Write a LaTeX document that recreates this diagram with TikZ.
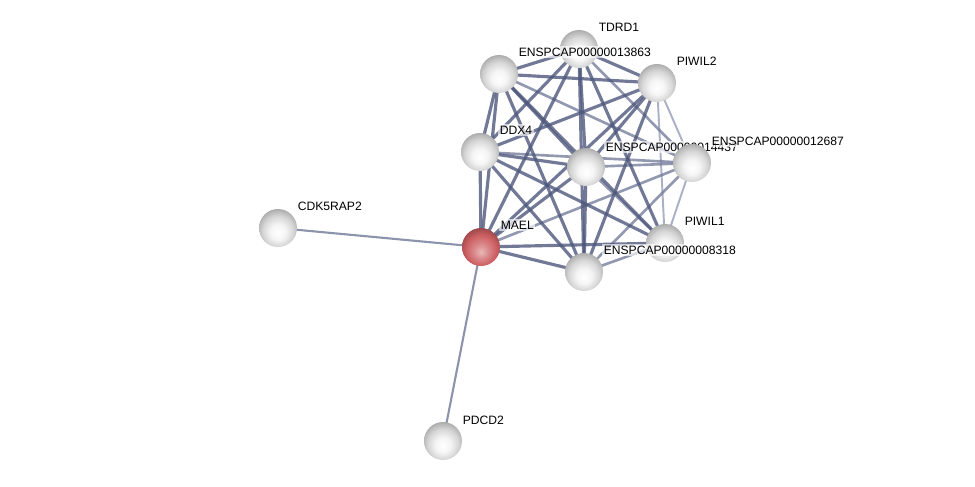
\documentclass[tikz,border=0pt]{standalone}
\usepackage{fontspec}
\setmainfont{Liberation Sans}
\usepackage{xcolor}
\definecolor{edgedark}{RGB}{78,88,124}
\definecolor{edgemid}{RGB}{118,126,156}
\definecolor{edgelight}{RGB}{170,176,198}
\definecolor{edgeout}{RGB}{140,148,172}
\definecolor{maelred}{RGB}{205,95,98}
\pgfdeclareradialshading{protball}{\pgfpoint{0bp}{-7bp}}{color(0bp)=(white); color(10bp)=(white!96!black); color(20bp)=(white!84!black); color(27bp)=(white!70!black); color(33bp)=(white!55!black); color(50bp)=(white!55!black)}
\pgfdeclareradialshading{queryball}{\pgfpoint{0bp}{-7bp}}{color(0bp)=(maelred!45!white); color(10bp)=(maelred!75!white); color(20bp)=(maelred); color(27bp)=(maelred!80!black); color(33bp)=(maelred!55!black); color(50bp)=(maelred!55!black)}

\begin{document}
\begin{tikzpicture}[x=0.02cm, y=-0.02cm,
    prot/.style={circle, minimum size=0.76cm, inner sep=0pt, shading=protball},
    query/.style={prot, shading=queryball},
    lbl/.style={anchor=west, font=\fontsize{6.9}{7}\selectfont, fill=white, fill opacity=0.65, text opacity=1, inner sep=0.8pt},
    strong/.style={draw=edgedark, line width=1.8pt, opacity=0.8},
    medium/.style={draw=edgemid, line width=1.5pt, opacity=0.8},
    weak/.style={draw=edgelight, line width=1.1pt},
    outer/.style={draw=edgeout, line width=1.2pt}]
    \useasboundingbox (0,0) rectangle (975,487);

    % node positions
    \coordinate (mael) at (481,247);
    \coordinate (ddx4) at (480,152);
    \coordinate (e13863) at (499,74);
    \coordinate (tdrd1) at (579,49);
    \coordinate (piwil2) at (657,83);
    \coordinate (e14437) at (586,167);
    \coordinate (e12687) at (692,163);
    \coordinate (piwil1) at (665,243);
    \coordinate (e8318) at (584,272);
    \coordinate (cdk) at (278,228);
    \coordinate (pdcd2) at (443,441);

    % edges
    \draw[outer] (cdk) -- (mael);
    \draw[outer] (pdcd2) -- (mael);
    \foreach \a/\b in {piwil2/piwil1, e12687/piwil1, piwil2/e12687}
        \draw[weak] (\a) -- (\b);
    \foreach \a/\b in {mael/e12687, ddx4/e12687, e13863/e12687, tdrd1/e12687,
                       e14437/e12687, e8318/e12687, e14437/piwil1, e8318/piwil1}
        \draw[medium] (\a) -- (\b);
    \foreach \a/\b in {mael/ddx4, mael/e13863, mael/tdrd1, mael/piwil2, mael/e14437,
                       mael/e8318, mael/piwil1, ddx4/e13863, ddx4/tdrd1, ddx4/piwil2,
                       ddx4/e14437, ddx4/e8318, ddx4/piwil1, e13863/tdrd1, e13863/piwil2,
                       e13863/e14437, e13863/e8318, e13863/piwil1, tdrd1/piwil2,
                       tdrd1/e14437, tdrd1/e8318, tdrd1/piwil1, piwil2/e14437,
                       piwil2/e8318, e14437/e8318}
        \draw[strong] (\a) -- (\b);

    % proteins
    \node[prot] (n-cdk) at (cdk) {};
    \node[lbl] at ([shift={(18,-22)}]cdk) {CDK5RAP2};
    \node[prot] (n-pdcd2) at (pdcd2) {};
    \node[lbl] at ([shift={(18,-21)}]pdcd2) {PDCD2};
    \node[prot] (n-e13863) at (e13863) {};
    \node[prot] (n-tdrd1) at (tdrd1) {};
    \node[lbl] at ([shift={(18,-22)}]tdrd1) {TDRD1};
    \node[lbl] at ([shift={(18,-22)}]e13863) {ENSPCAP00000013863};
    \node[prot] (n-piwil2) at (piwil2) {};
    \node[lbl] at ([shift={(18,-22)}]piwil2) {PIWIL2};
    \node[prot] (n-ddx4) at (ddx4) {};
    \node[lbl] at ([shift={(18,-22)}]ddx4) {DDX4};
    \node[prot] (n-piwil1) at (piwil1) {};
    \node[lbl] at ([shift={(18,-22)}]piwil1) {PIWIL1};
    \node[prot] (n-e14437) at (e14437) {};
    \node[lbl] at ([shift={(18,-20)}]e14437) {ENSPCAP00000014437};
    \node[prot] (n-e12687) at (e12687) {};
    \node[lbl] at ([shift={(18,-22)}]e12687) {ENSPCAP00000012687};
    \node[prot] (n-e8318) at (e8318) {};
    \node[lbl] at ([shift={(18,-22)}]e8318) {ENSPCAP00000008318};
    \node[query] (n-mael) at (mael) {};
    \node[lbl] at ([shift={(18,-22)}]mael) {MAEL};
\end{tikzpicture}
\end{document}
